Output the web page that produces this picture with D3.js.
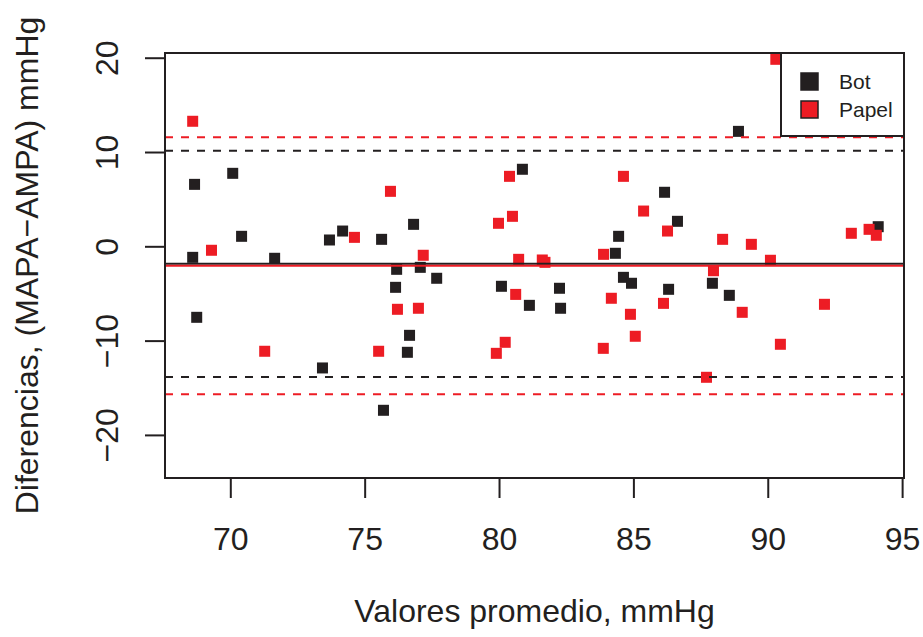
<!DOCTYPE html>
<html>
<head>
<meta charset="utf-8">
<script src="https://cdn.jsdelivr.net/npm/d3@7"></script>
<style>
  body { margin: 0; background: #fff; }
  text { font-family: "Liberation Sans", Arial, Helvetica, sans-serif; fill: #231f20; }
</style>
</head>
<body>
<div id="chart"></div>
<script>
const width = 923
const height = 637
const margin = { top: 53, right: 19, bottom: 159, left: 165 }

// datos
const botX = [68.60, 68.67, 68.75, 70.09, 70.42, 71.65, 73.43, 73.69, 74.18, 75.63, 75.70, 76.19,
  76.15, 76.67, 76.59, 76.82, 77.07, 77.68, 80.09, 80.87, 81.13, 82.25, 82.29, 84.33, 84.45,
  84.63, 84.93, 86.16, 86.31, 86.64, 87.94, 88.57, 88.91, 94.11]
const botY = [-1.17, 6.57, -7.53, 7.74, 1.06, -1.27, -12.9, 0.67, 1.62, 0.74, -17.39, -2.44,
  -4.35, -9.44, -11.24, 2.33, -2.23, -3.39, -4.24, 8.17, -6.26, -4.45, -6.57, -0.74, 1.06,
  -3.29, -3.92, 5.73, -4.56, 2.65, -3.92, -5.2, 12.19, 2.08]

const papelX = [68.60, 69.30, 71.28, 74.62, 75.52, 75.96, 76.22, 77.0, 77.18, 79.90, 79.98, 80.23,
  80.39, 80.50, 80.62, 80.73, 81.61, 81.71, 83.88, 83.89, 84.18, 84.63, 84.89, 85.07, 85.38,
  86.12, 86.27, 87.72, 87.98, 88.32, 89.05, 89.39, 90.10, 90.30, 90.47, 92.11, 93.11, 93.77, 94.04]
const papelY = [13.26, -0.42, -11.13, 0.95, -11.13, 5.83, -6.68, -6.57, -0.95, -11.35, 2.44, -10.18,
  7.42, 3.18, -5.1, -1.38, -1.45, -1.70, -10.82, -0.85, -5.51, 7.42, -7.21, -9.54, 3.74,
  -6.05, 1.62, -13.89, -2.59, 0.74, -7.0, 0.21, -1.48, 19.83, -10.39, -6.15, 1.38, 1.8, 1.17]

// media, limite superior, limite inferior
const botLines = [-1.85, 10.14, -13.86]
const papelLines = [-2.06, 11.56, -15.70]

const xTicks = [70, 75, 80, 85, 90, 95]
const yTicks = [-20, -10, 0, 10, 20]
const seriesNames = ['Bot', 'Papel']
const colors = ['#231f20', '#ed1c24']

const innerW = width - margin.left - margin.right
const innerH = height - margin.top - margin.bottom

const svg = d3.select('#chart').append('svg').attr('width', width).attr('height', height)
const g = svg.append('g').attr('transform', `translate(${margin.left}, ${margin.top})`)

const x = d3.scaleLinear().domain([67.57, 95.07]).range([0, innerW])
const y = d3.scaleLinear().domain([-24.57, 20.5]).range([innerH, 0])

const series = [
  { name: 'Bot', xs: botX, ys: botY, lines: botLines, color: colors[0] },
  { name: 'Papel', xs: papelX, ys: papelY, lines: papelLines, color: colors[1] },
]

const size = 11
series.forEach(s => {
  g.append('g').selectAll('rect')
    .data(s.xs.map((v, i) => [v, s.ys[i]]))
    .enter()
    .append('rect')
    .attr('x', d => x(d[0]) - size / 2)
    .attr('y', d => y(d[1]) - size / 2)
    .attr('width', size)
    .attr('height', size)
    .attr('fill', s.color)
})

// lineas de media y limites
series.forEach(s => {
  s.lines.forEach((v, i) => {
    g.append('line')
      .attr('x1', 0).attr('x2', innerW)
      .attr('y1', y(v)).attr('y2', y(v))
      .attr('stroke', s.color)
      .attr('stroke-width', 2)
      .attr('stroke-dasharray', i === 0 ? null : '8,8')
  })
})

// ejes
const xAxis = d3.axisBottom(x).tickValues(xTicks).tickSize(20).tickSizeOuter(0).tickPadding(8)
const yAxis = d3.axisLeft(y).tickValues(yTicks).tickSize(20).tickSizeOuter(0)

const xAxisGroup = g.append('g').attr('transform', `translate(0, ${innerH})`).call(xAxis)
const yAxisGroup = g.append('g').call(yAxis)

xAxisGroup.select('.domain').attr('d', `M${x(70)},0H${x(95)}`)
yAxisGroup.select('.domain').attr('d', `M0,${y(-20)}V${y(20)}`)

svg.selectAll('.domain, .tick line').attr('stroke', '#231f20').attr('stroke-width', 2)
xAxisGroup.selectAll('.tick text')
  .attr('font-size', 32).attr('font-family', null).attr('y', 72).attr('dy', null)
  .attr('fill', '#231f20')
yAxisGroup.selectAll('.tick text')
  .attr('font-size', 32).attr('font-family', null)
  .attr('x', null).attr('dy', null)
  .attr('text-anchor', 'middle')
  .attr('transform', 'translate(-47,0) rotate(-90)')
  .attr('fill', '#231f20')

// caja
g.append('rect')
  .attr('width', innerW).attr('height', innerH)
  .attr('fill', 'none').attr('stroke', '#231f20').attr('stroke-width', 2)

// titulos
svg.append('text')
  .attr('x', margin.left + innerW / 2).attr('y', 622)
  .attr('text-anchor', 'middle').attr('font-size', 32)
  .text('Valores promedio, mmHg')

svg.append('text')
  .attr('transform', `translate(38, ${margin.top + innerH / 2}) rotate(-90)`)
  .attr('text-anchor', 'middle').attr('font-size', 32)
  .text('Diferencias, (MAPA\u2212AMPA) mmHg')

// leyenda
const legend = svg.append('g').attr('transform', `translate(781, ${margin.top})`)
legend.append('rect')
  .attr('width', width - margin.right - 781).attr('height', 83)
  .attr('fill', '#fff').attr('stroke', '#231f20').attr('stroke-width', 2)
seriesNames.forEach((name, i) => {
  legend.append('rect')
    .attr('x', 20).attr('y', 20 + i * 28)
    .attr('width', 17).attr('height', 17)
    .attr('fill', colors[i]).attr('stroke', '#231f20').attr('stroke-width', 1.5)
  legend.append('text')
    .attr('x', 58).attr('y', 36 + i * 28)
    .attr('font-size', 21)
    .text(name)
})
</script>
</body>
</html>
